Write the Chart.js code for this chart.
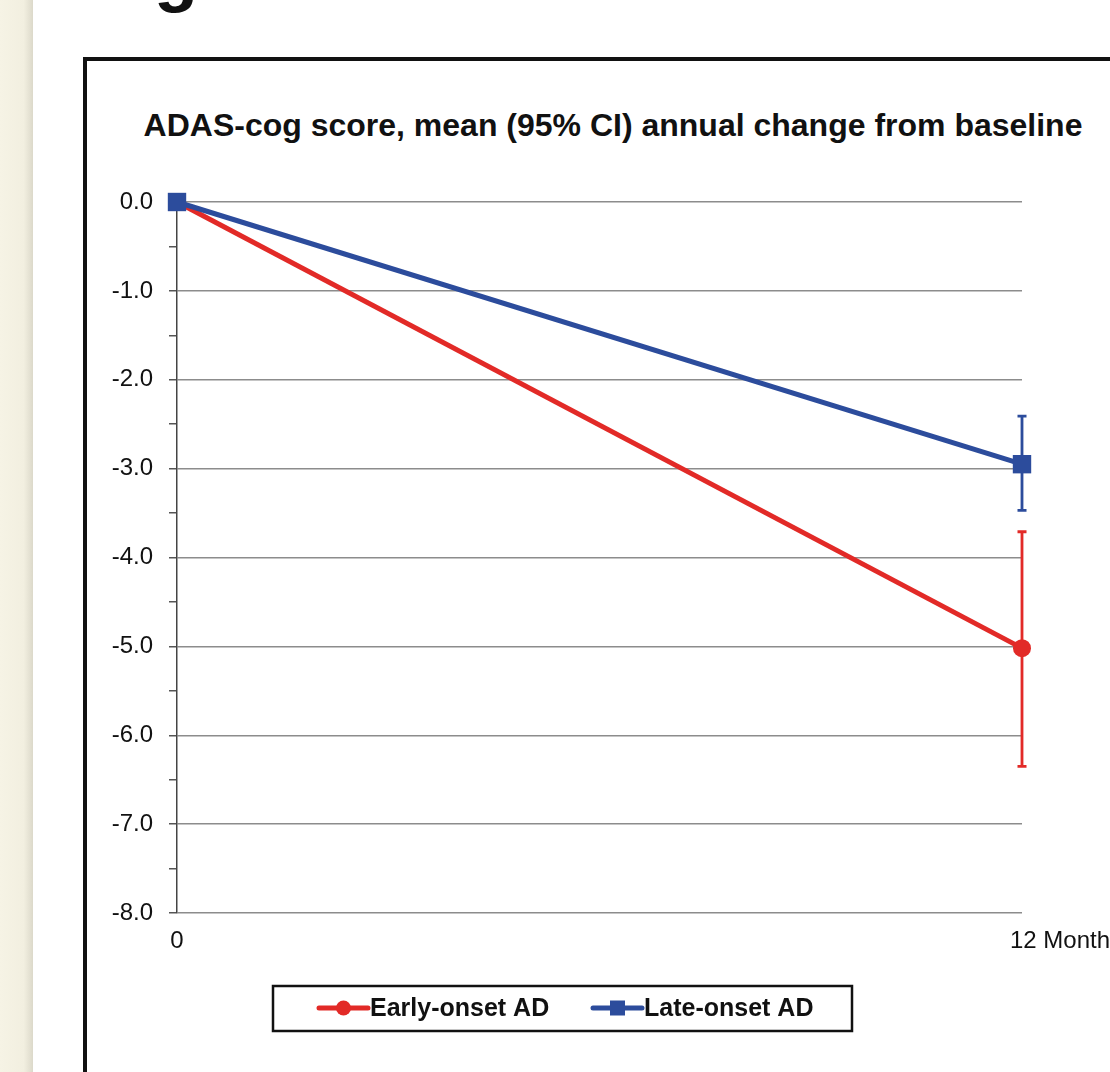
<!DOCTYPE html>
<html>
<head>
<meta charset="utf-8">
<script src="https://cdn.jsdelivr.net/npm/chart.js@4.4.1/dist/chart.umd.min.js"></script>
<style>
  html, body { margin: 0; padding: 0; background: #fff; }
  body { width: 1110px; height: 1072px; position: relative; overflow: hidden;
         font-family: "Liberation Sans", Arial, sans-serif; }
  #strip { position: absolute; left: 0; top: 0; width: 33px; height: 1072px;
           background: linear-gradient(to right, #f6f3e5 0%, #f2efe0 72%, #dcd9ca 100%); }
  #fig { position: absolute; left: 154px; top: -63px; font-size: 72px; line-height: 72px;
         font-weight: bold; color: #111; }
  #frame { position: absolute; left: 83px; top: 57px; width: 1300px; height: 1300px;
           border: 4px solid #111; box-sizing: border-box; }
  #title { position: absolute; left: 0; width: 1226px; top: 109px; text-align: center;
           font-size: 32px; line-height: 32px; font-weight: bold; color: #111; white-space: nowrap; }
  canvas { position: absolute; left: 0; top: 0; }
</style>
</head>
<body>
<div id="strip"></div>
<div id="fig">g</div>
<div id="frame"></div>
<div id="title">ADAS-cog score, mean (95% CI) annual change from baseline</div>
<canvas id="c" width="1110" height="1072"></canvas>
<script>
// Time points (months) and their axis labels
const months = [0, 12];
const monthLabels = ['0', '12 Months'];
const seriesNames = ['Early-onset AD', 'Late-onset AD'];

// Mean annual change and 95% CI bounds
const earlyMean  = [0, -5.02];
const earlyLower = [null, -6.35];
const earlyUpper = [null, -3.71];
const lateMean   = [0, -2.95];
const lateLower  = [null, -3.47];
const lateUpper  = [null, -2.41];

// Value axis range
const yMin = -8;
const yMax = 0;

const FONT = '"Liberation Sans", Arial, sans-serif';
const RED = '#e22a27';
const BLUE = '#2c4c9c';

function toPoints(xs, ys) { return xs.map((x, i) => ({ x: x, y: ys[i] })); }

// Vertical CI whiskers with short caps, drawn beneath the markers
const errorBars = {
  id: 'errorBars',
  beforeDatasetsDraw(chart) {
    const ctx = chart.ctx, xs = chart.scales.x, ys = chart.scales.y;
    chart.data.datasets.forEach(ds => {
      if (!ds.ciLower) return;
      ctx.save();
      ctx.strokeStyle = ds.borderColor;
      ctx.lineWidth = 2.8;
      ds.ciLower.forEach((lo, i) => {
        const hi = ds.ciUpper[i];
        if (lo == null || hi == null) return;
        const px = xs.getPixelForValue(ds.data[i].x);
        const pLo = ys.getPixelForValue(lo), pHi = ys.getPixelForValue(hi);
        ctx.beginPath();
        ctx.moveTo(px, pLo); ctx.lineTo(px, pHi);
        ctx.moveTo(px - 4.5, pLo); ctx.lineTo(px + 4.5, pLo);
        ctx.moveTo(px - 4.5, pHi); ctx.lineTo(px + 4.5, pHi);
        ctx.stroke();
      });
      ctx.restore();
    });
  }
};

// Category labels under the time axis
const monthAxisLabels = {
  id: 'monthAxisLabels',
  afterDraw(chart) {
    const ctx = chart.ctx, xs = chart.scales.x, area = chart.chartArea;
    ctx.save();
    ctx.font = '24px ' + FONT;
    ctx.fillStyle = '#111';
    ctx.textBaseline = 'middle';
    months.forEach((m, i) => {
      const px = xs.getPixelForValue(m);
      const last = i === months.length - 1;
      ctx.textAlign = last ? 'left' : 'center';
      ctx.fillText(monthLabels[i], last ? px - 12 : px, area.bottom + 28);
    });
    ctx.restore();
  }
};

// Boxed legend with line-and-marker swatches
const boxedLegend = {
  id: 'boxedLegend',
  afterDraw(chart) {
    const ctx = chart.ctx;
    ctx.save();
    ctx.lineWidth = 2.5;
    ctx.strokeStyle = '#111';
    ctx.strokeRect(273, 986, 579, 45);
    const starts = [319, 593];
    const yc = 1008;
    chart.data.datasets.forEach((ds, i) => {
      const x0 = starts[i];
      ctx.strokeStyle = ds.borderColor;
      ctx.fillStyle = ds.borderColor;
      ctx.lineWidth = 5;
      ctx.lineCap = 'round';
      ctx.beginPath(); ctx.moveTo(x0, yc); ctx.lineTo(x0 + 49, yc); ctx.stroke();
      const cx = x0 + 24.5;
      if (ds.pointStyle === 'rect') {
        ctx.fillRect(cx - 7.5, yc - 7.5, 15, 15);
      } else {
        ctx.beginPath(); ctx.arc(cx, yc, 7.5, 0, Math.PI * 2); ctx.fill();
      }
      ctx.fillStyle = '#111';
      ctx.font = 'bold 25px ' + FONT;
      ctx.textAlign = 'left';
      ctx.textBaseline = 'middle';
      ctx.fillText(ds.label, x0 + 51, yc + 1);
    });
    ctx.restore();
  }
};

new Chart(document.getElementById('c'), {
  type: 'line',
  data: {
    datasets: [
      {
        label: seriesNames[0],
        data: toPoints(months, earlyMean),
        ciLower: earlyLower, ciUpper: earlyUpper,
        borderColor: RED, backgroundColor: RED, pointBackgroundColor: RED,
        pointStyle: 'circle', pointRadius: 9, pointBorderWidth: 0,
        borderWidth: 5, tension: 0, clip: false, order: 1
      },
      {
        label: seriesNames[1],
        data: toPoints(months, lateMean),
        ciLower: lateLower, ciUpper: lateUpper,
        borderColor: BLUE, backgroundColor: BLUE, pointBackgroundColor: BLUE,
        pointStyle: 'rect', pointRadius: 13, pointBorderWidth: 0,
        borderWidth: 5, tension: 0, clip: false, order: 0
      }
    ]
  },
  options: {
    responsive: false,
    animation: false,
    devicePixelRatio: 1,
    layout: { padding: { left: 0, top: 202, right: 88, bottom: 159 } },
    plugins: {
      legend: { display: false },
      title: { display: false },
      tooltip: { enabled: false }
    },
    scales: {
      x: { type: 'linear', min: months[0], max: months[months.length - 1], display: false },
      y: {
        min: yMin, max: yMax,
        ticks: {
          stepSize: 0.5,
          autoSkip: false,
          callback: v => Number.isInteger(v) ? v.toFixed(1) : '',
          font: { family: FONT, size: 24 },
          color: '#111',
          padding: 16
        },
        grid: {
          color: c => Number.isInteger(c.tick.value) ? '#8c8c8c' : 'rgba(0,0,0,0)',
          lineWidth: 1.5,
          tickLength: 8,
          tickColor: '#555',
          tickWidth: 1.5
        },
        border: { color: '#444', width: 1.5 },
        afterFit: s => { s.width = 177; }
      }
    }
  },
  plugins: [errorBars, monthAxisLabels, boxedLegend]
});
</script>
</body>
</html>
